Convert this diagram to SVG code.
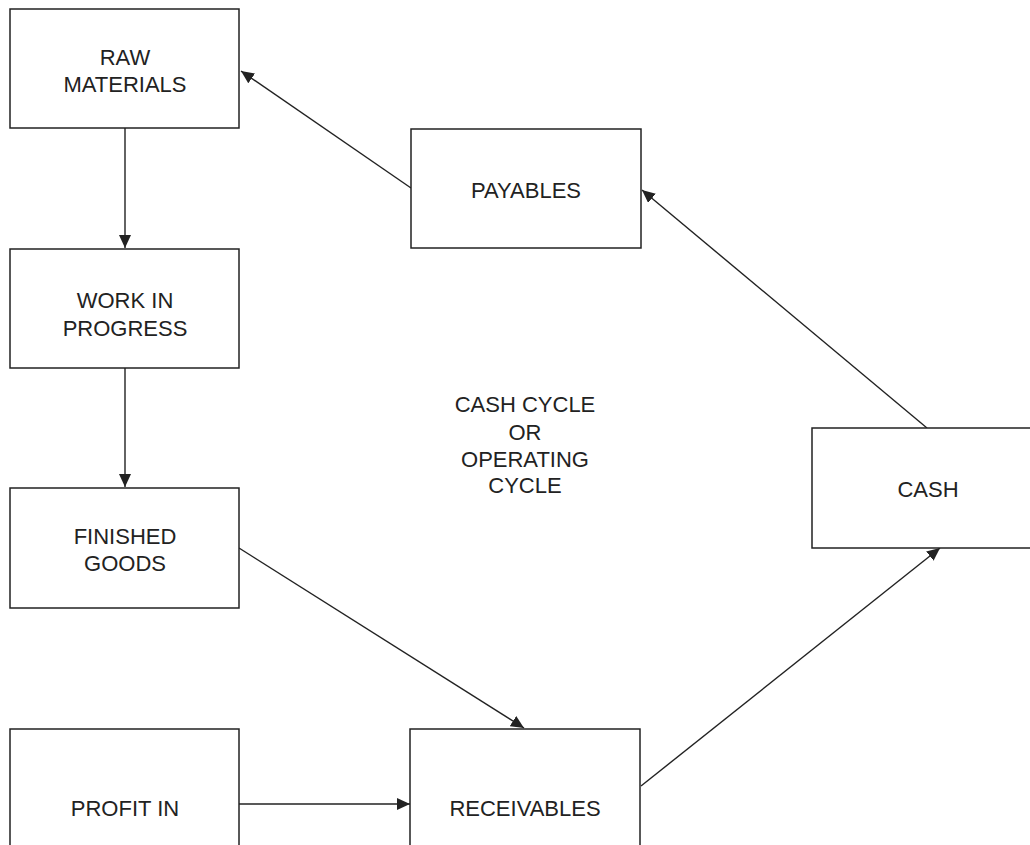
<svg xmlns="http://www.w3.org/2000/svg" width="1030" height="845" viewBox="0 0 1030 845">
<defs>
<style>
.box{fill:#fff;stroke:#222;stroke-width:1.5}
.lbl{font-family:"Liberation Sans",Arial,sans-serif;font-size:22px;fill:#222;text-anchor:middle}
.con{stroke:#222;stroke-width:1.4;fill:none;marker-end:url(#ah)}
</style>
<marker id="ah" markerUnits="userSpaceOnUse" markerWidth="14" markerHeight="12" refX="13" refY="6" orient="auto">
<path d="M0,0 L13,6 L0,12 Z" fill="#222"/>
</marker>
</defs>
<rect width="1030" height="845" fill="#fff"/>
<g id="connectors">
<line class="con" x1="125" y1="128" x2="125" y2="248"/>
<line class="con" x1="125" y1="368" x2="125" y2="487"/>
<line class="con" x1="411" y1="188" x2="241" y2="71"/>
<line class="con" x1="927" y1="428" x2="642" y2="190"/>
<line class="con" x1="641" y1="786" x2="940" y2="548"/>
<line class="con" x1="239" y1="548" x2="524" y2="728"/>
<line class="con" x1="239" y1="804" x2="410" y2="804"/>
</g>
<g id="raw-materials">
<rect class="box" x="10" y="9" width="229" height="119"/>
<text class="lbl" x="125" y="65">RAW</text>
<text class="lbl" x="125" y="92">MATERIALS</text>
</g>
<g id="payables">
<rect class="box" x="411" y="129" width="230" height="119"/>
<text class="lbl" x="526" y="198">PAYABLES</text>
</g>
<g id="work-in-progress">
<rect class="box" x="10" y="249" width="229" height="119"/>
<text class="lbl" x="125" y="308">WORK IN</text>
<text class="lbl" x="125" y="336">PROGRESS</text>
</g>
<g id="cash">
<rect class="box" x="812" y="428" width="230" height="120"/>
<text class="lbl" x="928" y="497">CASH</text>
</g>
<g id="finished-goods">
<rect class="box" x="10" y="488" width="229" height="120"/>
<text class="lbl" x="125" y="544">FINISHED</text>
<text class="lbl" x="125" y="571">GOODS</text>
</g>
<g id="profit-in">
<rect class="box" x="10" y="729" width="229" height="130"/>
<text class="lbl" x="125" y="816">PROFIT IN</text>
</g>
<g id="receivables">
<rect class="box" x="410" y="729" width="230" height="130"/>
<text class="lbl" x="525" y="816">RECEIVABLES</text>
</g>
<g id="cycle-label">
<text class="lbl" x="525" y="412">CASH CYCLE</text>
<text class="lbl" x="525" y="440">OR</text>
<text class="lbl" x="525" y="467">OPERATING</text>
<text class="lbl" x="525" y="493">CYCLE</text>
</g>
</svg>
